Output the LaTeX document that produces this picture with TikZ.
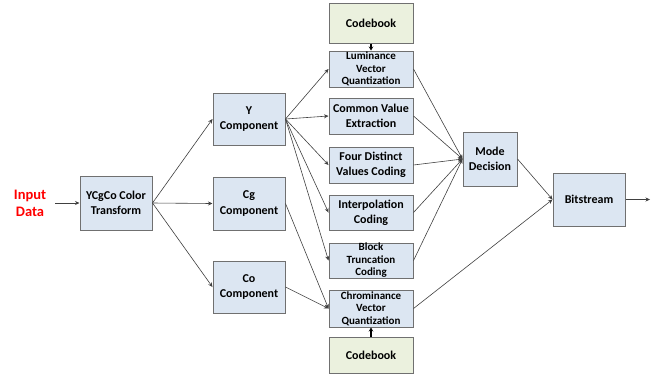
\documentclass[tikz,border=0pt]{standalone}
\usepackage{fontspec}
\setmainfont{Carlito}
\usetikzlibrary{arrows.meta}
\definecolor{boxblue}{HTML}{DCE6F2}
\definecolor{boxgreen}{HTML}{EBF1DE}
\definecolor{boxline}{HTML}{707070}
\definecolor{conn}{HTML}{404040}
\tikzset{
  blk/.style={draw=boxline, line width=1pt, fill=boxblue, align=center, inner sep=0pt,
    font=\bfseries\fontsize{12}{15}\selectfont},
  tight/.style={font=\bfseries\fontsize{11}{12.5}\selectfont},
  cbk/.style={blk, fill=boxgreen},
  conn/.style={draw=conn, line width=0.6pt, -{Stealth[length=4.5pt,width=4pt]}},
  cbconn/.style={draw=black, line width=1.3pt, -{Stealth[length=4pt,width=4.5pt]}},
}
\begin{document}
\begin{tikzpicture}[x=1pt,y=-1pt]
\useasboundingbox (0,0) rectangle (658,376);
\node[text=red, font=\bfseries\fontsize{14.5}{17}\selectfont, align=center] (in) at (30,203) {Input\\Data};
\coordinate (inend) at (55,203);
\node[blk, minimum width=72pt, minimum height=54pt] (ycc) at (116,203) {YCgCo Color\\Transform};
\node[blk, minimum width=72pt, minimum height=52pt] (y) at (249,119) {Y\\Component};
\node[blk, minimum width=72pt, minimum height=53pt] (cg) at (249,203.5) {Cg\\Component};
\node[blk, minimum width=72pt, minimum height=52pt] (co) at (249,287) {Co\\Component};
\node[cbk, minimum width=84pt, minimum height=40pt] (cb1) at (371,23) {Codebook};
\node[blk, tight, minimum width=84pt, minimum height=36pt] (lum) at (371,69) {Luminance\\Vector\\Quantization};
\node[blk, minimum width=84pt, minimum height=36pt] (cve) at (371,116) {Common Value\\Extraction};
\node[blk, minimum width=84pt, minimum height=36pt] (fdv) at (371,165) {Four Distinct\\Values Coding};
\node[blk, minimum width=84pt, minimum height=35pt] (ipc) at (371,212.5) {Interpolation\\Coding};
\node[blk, tight, minimum width=84pt, minimum height=35pt] (btc) at (371,260.5) {Block\\Truncation\\Coding};
\node[blk, tight, minimum width=84pt, minimum height=37pt] (cvq) at (371,308.5) {Chrominance\\Vector\\Quantization};
\node[cbk, minimum width=84pt, minimum height=36pt] (cb2) at (371,355) {Codebook};
\node[blk, minimum width=54pt, minimum height=54pt] (md) at (490,159) {Mode\\Decision};
\node[blk, minimum width=72pt, minimum height=53pt] (bs) at (589,199.5) {Bitstream};
\coordinate (out) at (650,199.5);

\draw[conn] (inend) -- (ycc.west);
\draw[conn] (ycc.east) -- (y.west);
\draw[conn] (ycc.east) -- (cg.west);
\draw[conn] (ycc.east) -- (co.west);
\foreach \t in {lum,cve,fdv,ipc,btc} \draw[conn] (y.east) -- (\t.west);
\draw[conn] (cg.east) -- (cvq.west);
\draw[conn] (co.east) -- (cvq.west);
\draw[cbconn] (cb1.south) -- (lum.north);
\draw[cbconn] (cb2.north) -- (cvq.south);
\foreach \s in {lum,cve,fdv,ipc,btc} \draw[conn] (\s.east) -- (md.west);
\draw[conn] (cvq.east) -- (bs.west);
\draw[conn] (md.east) -- (bs.west);
\draw[conn] (bs.east) -- (out);
\end{tikzpicture}
\end{document}
